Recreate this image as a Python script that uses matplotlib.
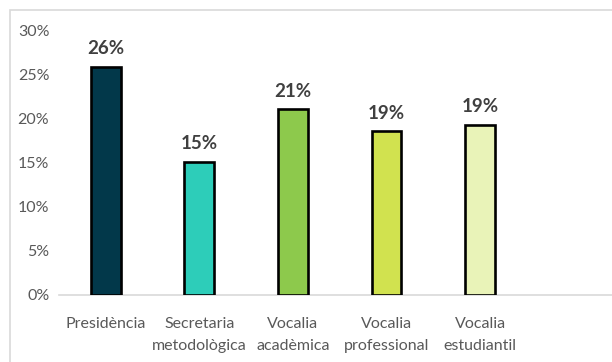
import matplotlib.pyplot as plt
from matplotlib.patches import Rectangle
from matplotlib.ticker import PercentFormatter

plt.rcParams['font.family'] = ['Lato', 'DejaVu Sans']

categories = ["Presidència", "Secretaria\nmetodològica", "Vocalia\nacadèmica",
              "Vocalia\nprofessional", "Vocalia\nestudiantil"]
shares = [0.259, 0.151, 0.211, 0.186, 0.193]
colours = ["#02384A", "#2DCDB9", "#8DC94C", "#D1E24F", "#E9F3B8"]

fig = plt.figure(figsize=(6.12, 3.62), dpi=100)
ax = fig.add_axes([59 / 612, 67 / 362, 553 / 612, 264 / 362])

# light chart-area border
fig.patches.append(Rectangle((9.5 / 612, -0.1), 1.2, (352 / 362) + 0.1,
                             transform=fig.transFigure, fill=False,
                             edgecolor="#D9D9D9", linewidth=1.2))

x = range(len(categories))
bars = ax.bar(x, shares, width=0.32, color=colours, edgecolor="black",
              linewidth=1.9, zorder=3)

for bar, v in zip(bars, shares):
    ax.text(bar.get_x() + bar.get_width() / 2, v + 0.011, f"{v:.0%}",
            ha="center", va="bottom", fontsize=13.5, fontweight="bold",
            color="#404040")

ax.set_xlim(-0.5, 5.41)
ax.set_ylim(0, 0.30)
ax.set_yticks([0, 0.05, 0.10, 0.15, 0.20, 0.25, 0.30])
ax.yaxis.set_major_formatter(PercentFormatter(1.0, decimals=0))
ax.set_xticks(list(x))
ax.set_xticklabels(categories, linespacing=1.75)

ax.tick_params(axis="both", length=0, labelsize=11.5, colors="#595959")
ax.tick_params(axis="x", pad=15.5)
ax.tick_params(axis="y", pad=7)

for side in ["top", "right", "left"]:
    ax.spines[side].set_visible(False)
ax.spines["bottom"].set_color("#D9D9D9")
ax.spines["bottom"].set_linewidth(1.2)

fig.savefig("out.png", dpi=100)
